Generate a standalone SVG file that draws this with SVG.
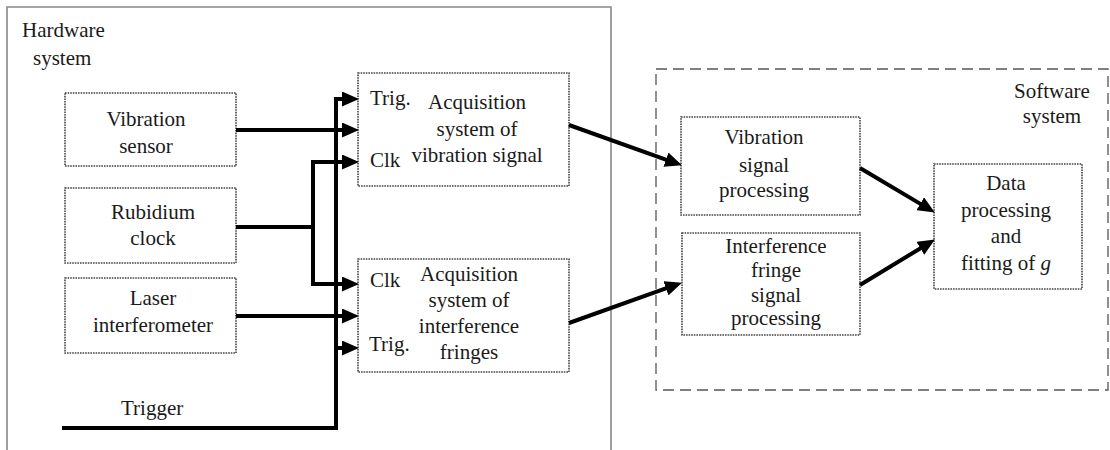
<svg xmlns="http://www.w3.org/2000/svg" width="1110" height="450" viewBox="0 0 1110 450" font-family="'Liberation Serif', 'Times New Roman', Times, 'DejaVu Serif', serif">
<style>
text{font-family:'Liberation Serif','Times New Roman',Times,'DejaVu Serif',serif;font-size:21px;fill:#1a1a1a}
.c{text-anchor:middle}
.node{fill:#fff;stroke:#444;stroke-width:1.6;stroke-dasharray:1.6 1}
.wire{fill:none;stroke:#000;stroke-width:4;stroke-linejoin:miter}
</style>
<defs>
<marker id="ah" markerUnits="userSpaceOnUse" markerWidth="17" markerHeight="15" refX="8" refY="7.5" orient="auto">
<path d="M0,0 L17,7.5 L0,15 z" fill="#000"/>
</marker>
</defs>
<rect width="1110" height="450" fill="#fff"/>

<g id="hardware-system">
<path d="M7,450 V7 H611 V450" fill="none" stroke="#888" stroke-width="1.6"/>
<text x="22" y="37">Hardware</text>
<text x="33" y="65">system</text>
</g>

<g id="software-system">
<rect x="656" y="69" width="452" height="321" fill="none" stroke="#555" stroke-width="1.3" stroke-dasharray="11 6"/>
<text class="c" x="1052" y="98">Software</text>
<text class="c" x="1052" y="123">system</text>
</g>

<g id="vibration-sensor">
<rect class="node" x="65" y="93" width="171" height="73"/>
<text class="c" x="146" y="126">Vibration</text>
<text class="c" x="146" y="153">sensor</text>
</g>

<g id="rubidium-clock">
<rect class="node" x="65" y="188" width="171" height="75"/>
<text class="c" x="153" y="219">Rubidium</text>
<text class="c" x="153" y="245">clock</text>
</g>

<g id="laser-interferometer">
<rect class="node" x="65" y="278" width="171" height="75"/>
<text class="c" x="153" y="305">Laser</text>
<text class="c" x="153" y="332">interferometer</text>
</g>

<g id="acq-vibration">
<rect class="node" x="358" y="73" width="211" height="113"/>
<text x="370" y="105">Trig.</text>
<text x="370" y="167">Clk</text>
<text class="c" x="477" y="109">Acquisition</text>
<text class="c" x="477" y="136">system of</text>
<text class="c" x="477" y="162">vibration signal</text>
</g>

<g id="acq-fringes">
<rect class="node" x="358" y="259" width="211" height="113"/>
<text x="370" y="287">Clk</text>
<text x="369" y="351">Trig.</text>
<text class="c" x="469" y="281">Acquisition</text>
<text class="c" x="469" y="307">system of</text>
<text class="c" x="469" y="333">interference</text>
<text class="c" x="469" y="359">fringes</text>
</g>

<g id="vibration-processing">
<rect class="node" x="681" y="117" width="179" height="98"/>
<text class="c" x="764" y="144">Vibration</text>
<text class="c" x="764" y="172">signal</text>
<text class="c" x="764" y="197">processing</text>
</g>

<g id="fringe-processing">
<rect class="node" x="682" y="233" width="178" height="102"/>
<text class="c" x="776" y="253">Interference</text>
<text class="c" x="776" y="277">fringe</text>
<text class="c" x="776" y="302">signal</text>
<text class="c" x="776" y="325">processing</text>
</g>

<g id="data-processing">
<rect class="node" x="934" y="164" width="148" height="125"/>
<text class="c" x="1006" y="190">Data</text>
<text class="c" x="1006" y="217">processing</text>
<text class="c" x="1006" y="243">and</text>
<text class="c" x="1006" y="270">fitting of <tspan font-style="italic">g</tspan></text>
</g>

<g id="trigger-label">
<text x="121" y="415">Trigger</text>
</g>

<g id="connectors">
<path class="wire" d="M62,428 H336 V99 H350" marker-end="url(#ah)"/>
<path class="wire" d="M336,348 H350" marker-end="url(#ah)"/>
<path class="wire" d="M236,130 H350" marker-end="url(#ah)"/>
<path class="wire" d="M236,227 H313"/>
<path class="wire" d="M313,227 V162 H350" marker-end="url(#ah)"/>
<path class="wire" d="M313,227 V284 H350" marker-end="url(#ah)"/>
<path class="wire" d="M236,316 H350" marker-end="url(#ah)"/>
<path class="wire" d="M569,125 L673.5,162.3" marker-end="url(#ah)"/>
<path class="wire" d="M569,323 L673.5,285.7" marker-end="url(#ah)"/>
<path class="wire" d="M860,168 L927.1,207.9" marker-end="url(#ah)"/>
<path class="wire" d="M860,285 L927.2,244.2" marker-end="url(#ah)"/>
</g>
</svg>
